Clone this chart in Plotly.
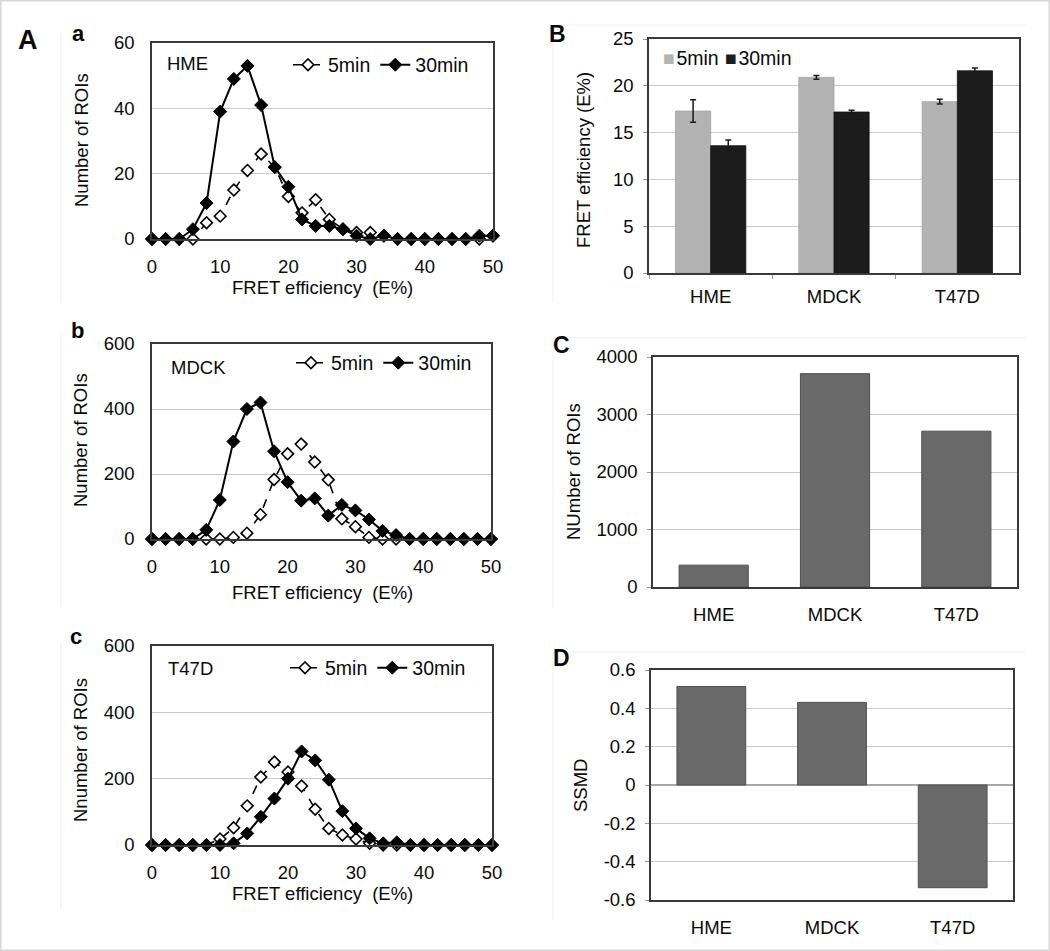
import plotly.graph_objects as go

# ---------------- data ----------------
fret_bins = [0, 2, 4, 6, 8, 10, 12, 14, 16, 18, 20, 22, 24, 26, 28, 30, 32, 34, 36, 38, 40, 42, 44, 46, 48, 50]

hme_5min = [0, 0, 0, 0, 5, 7, 15, 21, 26, 22, 13, 8, 12, 6, 3, 2, 2, 1, 0, 0, 0, 0, 0, 0, 0, 1]
hme_30min = [0, 0, 0, 3, 11, 39, 49, 53, 41, 22, 16, 6, 4, 4, 3, 1, 0, 1, 0, 0, 0, 0, 0, 0, 1, 1]

mdck_5min = [0, 0, 0, 0, 0, 0, 5, 18, 75, 183, 262, 292, 237, 182, 62, 38, 5, 0, 0, 0, 0, 0, 0, 0, 0, 0]
mdck_30min = [0, 0, 0, 0, 28, 120, 300, 400, 420, 270, 175, 118, 125, 72, 105, 88, 60, 25, 12, 0, 0, 0, 0, 0, 0, 0]

t47d_5min = [0, 0, 0, 0, 0, 18, 52, 118, 205, 250, 220, 178, 108, 50, 30, 18, 5, 0, 0, 0, 0, 0, 0, 0, 0, 0]
t47d_30min = [0, 0, 0, 0, 0, 0, 5, 35, 85, 140, 200, 282, 255, 197, 102, 50, 20, 5, 8, 0, 0, 0, 0, 0, 0, 0]

cell_lines = ["HME", "MDCK", "T47D"]
mean_fret_5min = [17.3, 20.9, 18.3]
err_fret_5min = [1.2, 0.2, 0.25]
mean_fret_30min = [13.6, 17.2, 21.6]
err_fret_30min = [0.6, 0.2, 0.3]

total_rois = [380, 3710, 2710]
ssmd_values = [0.514, 0.431, -0.536]

x_ticks = [0, 10, 20, 30, 40, 50]
ssmd_tickvals = [-0.6, -0.4, -0.2, 0, 0.2, 0.4, 0.6]
ssmd_ticktext = ["-0.6", "-0.4", "-0.2", "0", "0.2", "0.4", "0.6"]

# ---------------- figure ----------------
W, H = 1050, 951
FONT = "Arial, Liberation Sans, Helvetica, sans-serif"
FS = 18.5
TXT = "#0a0a0a"
C5 = "#b3b3b3"
C30 = "#1c1c1c"


def px_x(p):
    return p / W


def px_y(p):
    return 1 - p / H


fig = go.Figure()

hist_panels = [
    ("x", "y", "legend", hme_5min, hme_30min),
    ("x2", "y2", "legend2", mdck_5min, mdck_30min),
    ("x3", "y3", "legend3", t47d_5min, t47d_30min),
]

for xa, ya, lg, v5, v30 in hist_panels:
    fig.add_trace(go.Scatter(
        x=fret_bins, y=v5, name="5min", xaxis=xa, yaxis=ya, legend=lg,
        mode="lines+markers", cliponaxis=False,
        line=dict(color="black", width=1.6, dash="dash"),
        marker=dict(symbol="diamond", size=9, color="white",
                    line=dict(color="black", width=1.6)),
    ))
    fig.add_trace(go.Scatter(
        x=fret_bins, y=v30, name="30min", xaxis=xa, yaxis=ya, legend=lg,
        mode="lines+markers", cliponaxis=False,
        line=dict(color="black", width=2),
        marker=dict(symbol="diamond", size=10, color="black",
                    line=dict(color="black", width=1)),
    ))

# Panel B
fig.add_trace(go.Bar(
    x=cell_lines, y=mean_fret_5min, name="5min", xaxis="x4", yaxis="y4", showlegend=False,
    marker=dict(color=C5, line=dict(color="#a0a0a0", width=0.8)),
    error_y=dict(type="data", array=err_fret_5min, color="#1a1a1a", thickness=1.5, width=3),
))
fig.add_trace(go.Bar(
    x=cell_lines, y=mean_fret_30min, name="30min", xaxis="x4", yaxis="y4", showlegend=False,
    marker=dict(color=C30, line=dict(color="#111111", width=0.8)),
    error_y=dict(type="data", array=err_fret_30min, color="#1a1a1a", thickness=1.5, width=3),
))

# Panel C
fig.add_trace(go.Bar(
    x=cell_lines, y=total_rois, xaxis="x5", yaxis="y5", showlegend=False,
    marker=dict(color="#696969", line=dict(color="#4f4f4f", width=1)),
))

# Panel D
fig.add_trace(go.Bar(
    x=cell_lines, y=ssmd_values, xaxis="x6", yaxis="y6", showlegend=False,
    marker=dict(color="#696969", line=dict(color="#4f4f4f", width=1)),
))

tickfont = dict(family=FONT, size=FS, color=TXT)
axline = dict(showline=True, linecolor="#3a3a3a", linewidth=1.5, mirror=True)
grid = dict(showgrid=True, gridcolor="#c9c9c9", gridwidth=1.2)

# domains (pixels)
dom = {
    "a": ((152, 493), (43, 239)),
    "b": ((152, 491), (344, 539)),
    "c": ((152, 492), (646, 845)),
    "B": ((649, 1019), (39, 273)),
    "C": ((653, 1017), (357, 587)),
    "D": ((651, 1013), (670, 900)),
}


def xd(k):
    return [px_x(dom[k][0][0]), px_x(dom[k][0][1])]


def yd(k):
    return [px_y(dom[k][1][1]), px_y(dom[k][1][0])]


layout = dict(
    width=W, height=H, margin=dict(l=0, r=0, t=0, b=0),
    paper_bgcolor="white", plot_bgcolor="white",
    font=dict(family=FONT, size=FS, color=TXT),
    barmode="group",
)

for i, (k, yr, dt) in enumerate([("a", [0, 60], 20), ("b", [0, 600], 200), ("c", [0, 600], 200)], start=1):
    sx = "" if i == 1 else str(i)
    layout["xaxis" + sx] = dict(
        domain=xd(k), anchor="y" + sx, range=[0, 50], tickvals=x_ticks,
        showgrid=False, zeroline=False, ticks="", ticklabelstandoff=10,
        tickfont=tickfont, automargin=False, fixedrange=True, **axline)
    layout["yaxis" + sx] = dict(
        domain=yd(k), anchor="x" + sx, range=yr, dtick=dt, zeroline=False,
        ticks="", ticklabelstandoff=12, tickfont=tickfont, automargin=False,
        fixedrange=True, **grid, **axline)

# Panel B axes
layout["xaxis4"] = dict(domain=xd("B"), anchor="y4", ticks="outside", tickson="boundaries",
                        ticklen=4, tickcolor="#999999", showgrid=False, tickfont=tickfont,
                        ticklabelstandoff=6, automargin=False, **axline)
layout["yaxis4"] = dict(domain=yd("B"), anchor="x4", range=[0, 25], dtick=5, zeroline=False,
                        ticks="outside", ticklen=4, tickcolor="#999999", ticklabelstandoff=6,
                        tickfont=tickfont, automargin=False, **grid, **axline)
layout["bargap"] = 0.43

# Panel C axes
layout["xaxis5"] = dict(domain=xd("C"), anchor="y5", ticks="", showgrid=False, tickfont=tickfont,
                        ticklabelstandoff=10, automargin=False, **axline)
layout["yaxis5"] = dict(domain=yd("C"), anchor="x5", range=[0, 4000], dtick=1000, zeroline=False,
                        ticks="outside", ticklen=4, tickcolor="#999999", ticklabelstandoff=6,
                        tickfont=tickfont, automargin=False, **grid, **axline)

# Panel D axes
layout["xaxis6"] = dict(domain=xd("D"), anchor="y6", ticks="", showgrid=False, tickfont=tickfont,
                        ticklabelstandoff=10, automargin=False, **axline)
layout["yaxis6"] = dict(domain=yd("D"), anchor="x6", range=[-0.6, 0.6],
                        tickvals=ssmd_tickvals, ticktext=ssmd_ticktext,
                        zeroline=True, zerolinecolor="#a8a8a8", zerolinewidth=1.5,
                        ticks="outside", ticklen=4, tickcolor="#999999", ticklabelstandoff=6,
                        tickfont=tickfont, automargin=False, **grid, **axline)

legend_common = dict(orientation="h", font=dict(family=FONT, size=19.5, color=TXT),
                     bgcolor="rgba(0,0,0,0)", itemwidth=30, tracegroupgap=0,
                     xanchor="left", yanchor="middle", itemclick=False, itemdoubleclick=False)
layout["legend"] = dict(x=px_x(288), y=px_y(65), **legend_common)
layout["legend2"] = dict(x=px_x(291), y=px_y(363), **legend_common)
layout["legend3"] = dict(x=px_x(285), y=px_y(668), **legend_common)

fig.update_layout(**layout)

ann = []


def txt(x, y, s, size=FS, bold=False, angle=0, xanchor="center"):
    ann.append(dict(x=px_x(x), y=px_y(y), xref="paper", yref="paper", text=("<b>%s</b>" % s) if bold else s,
                    showarrow=False, textangle=angle, xanchor=xanchor, yanchor="middle",
                    font=dict(family=FONT, size=size, color=TXT)))


# panel letters
txt(28, 40, "A", size=27, bold=True)
txt(78, 33, "a", size=22, bold=True)
txt(77, 330, "b", size=22, bold=True)
txt(76, 636, "c", size=22, bold=True)
txt(557, 34, "B", size=23, bold=True)
txt(561, 345, "C", size=23, bold=True)
txt(561, 658, "D", size=23, bold=True)

# in-plot labels
txt(165, 63, "HME", xanchor="left")
txt(169, 367, "MDCK", xanchor="left")
txt(166, 668, "T47D", xanchor="left")

# panel B legend (square swatches + labels)
txt(661, 58, "<span style='color:%s'>■</span>&#8202;5min" % C5, size=19.5, xanchor="left")
txt(723, 58, "<span style='color:%s'>■</span>&#8202;30min" % C30, size=19.5, xanchor="left")

# axis titles
txt(322, 287, "FRET efficiency  (E%)")
txt(322, 592, "FRET efficiency  (E%)")
txt(322, 893, "FRET efficiency  (E%)")
txt(82, 140, "Number of ROIs", angle=-90)
txt(80, 440, "Number of ROIs", angle=-90)
txt(80, 750, "Nnumber of ROIs", angle=-90)
txt(583, 160, "FRET efficiency (E%)", angle=-90)
txt(573, 472, "NUmber of ROIs", angle=-90)
txt(580, 786, "SSMD", angle=-90)

fig.update_layout(annotations=ann)

# faint chart-area borders and outer frame
shapes = []
for (y0, y1) in [(33, 303), (333, 607), (642, 910)]:
    shapes.append(dict(type="line", xref="paper", yref="paper", x0=px_x(61), x1=px_x(61),
                       y0=px_y(y0), y1=px_y(y1), line=dict(color="#ededed", width=1)))
for (y0, y1) in [(25, 303), (338, 608), (652, 920)]:
    shapes.append(dict(type="line", xref="paper", yref="paper", x0=px_x(553), x1=px_x(1026),
                       y0=px_y(y0), y1=px_y(y0), line=dict(color="#f0f0f0", width=1)))
    shapes.append(dict(type="line", xref="paper", yref="paper", x0=px_x(553), x1=px_x(553),
                       y0=px_y(y0), y1=px_y(y1), line=dict(color="#f0f0f0", width=1)))
shapes.append(dict(type="rect", xref="paper", yref="paper", x0=0, x1=1, y0=0, y1=1,
                   line=dict(color="#d6d6d6", width=3)))
fig.update_layout(shapes=shapes)

fig.write_html("out.html", config={"displayModeBar": False},
               post_script="document.body.style.margin='0';document.body.style.overflow='hidden';")
